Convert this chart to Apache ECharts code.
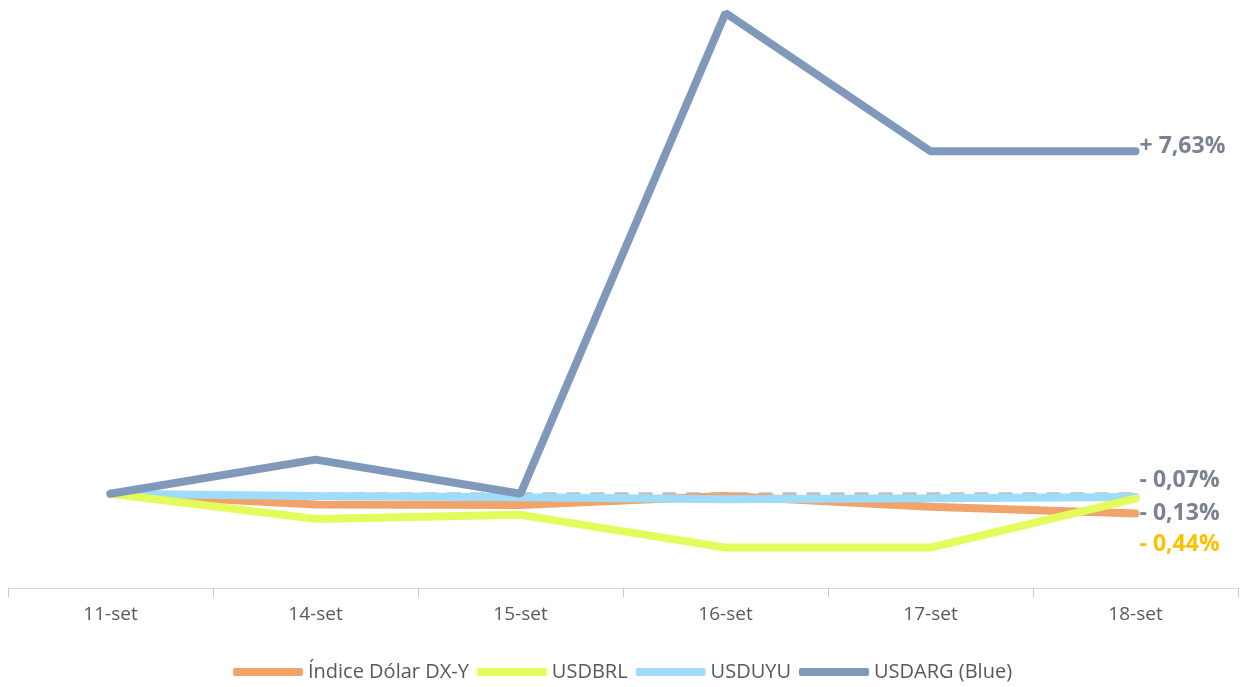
<!DOCTYPE html>
<html>
<head>
<meta charset="UTF-8">
<title>Dólar - variação</title>
<script src="https://cdn.jsdelivr.net/npm/echarts@6/dist/echarts.min.js"></script>
<style>
  html, body { margin: 0; padding: 0; background: #fff; }
  #demo { width: 1245px; height: 687px; }
</style>
</head>
<body>
<div id="demo"></div>
<script>
// dias (categorias)
var dias = ['11-set', '14-set', '15-set', '16-set', '17-set', '18-set'];
// variação acumulada em %
var dxy    = [0, -0.24, -0.25, -0.05, -0.29, -0.44];
var usdbrl = [0, -0.56, -0.47, -1.20, -1.20, -0.11];
var usduyu = [0, -0.05, -0.08, -0.12, -0.10, -0.07];
var usdarg = [0, 0.76, 0, 10.71, 7.63, 7.63];
var base   = [0, 0, 0, 0, 0, 0];
// rótulos finais
var rotulos = ['- 0,13%', '- 0,44%', '- 0,07%', '+ 7,63%'];

var fonte = '"Liberation Sans Narrow", "Open Sans", sans-serif';

function fimLabel(txt, cor, off) {
    return {
        show: true,
        formatter: txt,
        color: cor,
        fontSize: 23,
        fontWeight: 'bold',
        fontFamily: fonte,
        distance: 4,
        offset: off
    };
}

var chart = echarts.init(document.getElementById('demo'));
var option = {
    animation: false,
    grid: { left: 8, right: 7, top: 0, bottom: 99 },
    legend: {
        bottom: 0,
        left: 'center',
        itemWidth: 70,
        itemHeight: 8,
        itemGap: 8,
        icon: 'roundRect',
        data: ['Índice Dólar DX-Y', 'USDBRL', 'USDUYU', 'USDARG (Blue)'],
        textStyle: { color: '#595959', fontSize: 20, fontFamily: fonte }
    },
    xAxis: {
        type: 'category',
        data: dias,
        boundaryGap: true,
        axisLine: { onZero: false, lineStyle: { color: '#d9d9d9', width: 1 } },
        axisTick: { show: true, length: 9, lineStyle: { color: '#c8c8c8', width: 1 } },
        axisLabel: { color: '#595959', fontSize: 19, margin: 17, fontFamily: fonte }
    },
    yAxis: {
        type: 'value',
        min: -2.1,
        max: 11,
        show: false
    },
    series: [
        {
            name: 'zero', type: 'line', data: base, symbol: 'none', silent: true,
            lineStyle: { color: '#bfbfbf', width: 3, type: [14, 10] }, z: 1
        },
        {
            name: 'Índice Dólar DX-Y', type: 'line', data: dxy, symbol: 'none',
            itemStyle: { color: '#f0a36a' },
            lineStyle: { color: '#f0a36a', width: 8, cap: 'round' },
            endLabel: fimLabel(rotulos[0], '#7a8190', [0, 0]), z: 2
        },
        {
            name: 'USDBRL', type: 'line', data: usdbrl, symbol: 'none',
            itemStyle: { color: '#e4fb5c' },
            lineStyle: { color: '#e4fb5c', width: 8, cap: 'round' },
            endLabel: fimLabel(rotulos[1], '#ffc000', [0, 46]), z: 3
        },
        {
            name: 'USDUYU', type: 'line', data: usduyu, symbol: 'none',
            itemStyle: { color: '#9edcfa' },
            lineStyle: { color: '#9edcfa', width: 8, cap: 'round' },
            endLabel: fimLabel(rotulos[2], '#7a8190', [0, -16]), z: 2
        },
        {
            name: 'USDARG (Blue)', type: 'line', data: usdarg, symbol: 'none',
            itemStyle: { color: '#8099ba' },
            lineStyle: { color: '#8099ba', width: 8, cap: 'round' },
            endLabel: fimLabel(rotulos[3], '#7a8190', [0, -5]), z: 4
        }
    ]
};
chart.setOption(option);
</script>
</body>
</html>
